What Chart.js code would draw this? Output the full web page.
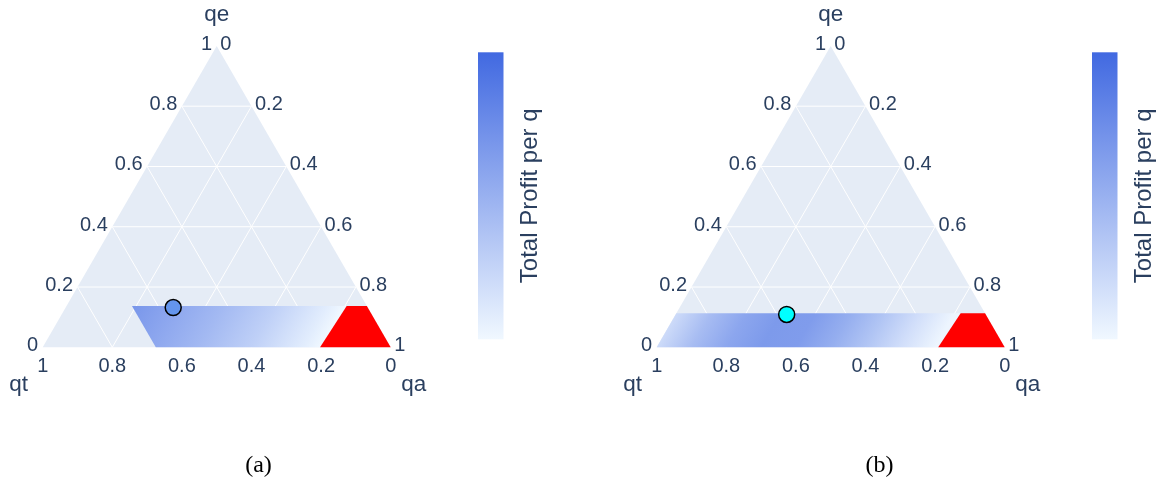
<!DOCTYPE html>
<html>
<head>
<meta charset="utf-8">
<script src="https://cdn.jsdelivr.net/npm/chart.js@4.4.1/dist/chart.umd.min.js"></script>
<style>
html, body { margin: 0; padding: 0; background: #fff; }
#wrap { position: relative; width: 1161px; height: 482px; overflow: hidden; }
.panel { position: absolute; top: 0; width: 547px; height: 482px; }
</style>
</head>
<body>
<div id="wrap">
  <div class="panel" style="left:0"><canvas id="chartA" width="547" height="482"></canvas></div>
  <div class="panel" style="left:614px"><canvas id="chartB" width="547" height="482"></canvas></div>
</div>
<script>
// ternary axes
const gridSteps = [0.2, 0.4, 0.6, 0.8];
const tickValues = [0, 0.2, 0.4, 0.6, 0.8, 1];
const tickLabels = ['0', '0.2', '0.4', '0.6', '0.8', '1'];
const colorbarTitle = 'Total Profit per q';
const captions = ['(a)', '(b)'];

// feasible band: qe upper bound, qt upper bound, qa where the red area starts (bottom / top)
const regionA = { qeMax: 0.137, qtMax: 0.675, qaCutBottom: 0.797, qaCutTop: 0.805 };
const regionB = { qeMax: 0.113, qtMax: 1.0, qaCutBottom: 0.809, qaCutTop: 0.817 };

// profit on the colour scale (0..1) read along qa
const profitQaA = [0.15, 0.30, 0.45, 0.60, 0.75, 0.80];
const profitA   = [0.72, 0.58, 0.44, 0.28, 0.08, 0.00];
const profitQaB = [0.00, 0.10, 0.20, 0.30, 0.40, 0.50, 0.60, 0.70, 0.80];
const profitB   = [0.20, 0.42, 0.57, 0.66, 0.64, 0.52, 0.36, 0.18, 0.02];

// chosen point [qa, qe]
const pointA = [0.309, 0.132];
const pointB = [0.319, 0.109];

const H = Math.sqrt(3) / 2;
const TEXT = '#2a3f5f';
const SANS = '"Liberation Sans", Arial, sans-serif';
const lowRGB = [240, 248, 255];   // aliceblue
const highRGB = [65, 105, 225];   // royalblue

function colorAt(t) {
    let c = lowRGB.map((l, i) => Math.round(l + (highRGB[i] - l) * t));
    return 'rgb(' + c.join(',') + ')';
}

function cart(qa, qe) {
    return { x: qa + qe / 2, y: qe * H };
}

function bandShape(r) {
    let topQt = Math.min(r.qtMax, 1 - r.qeMax);
    return [
        cart(1 - r.qtMax, 0),
        cart(r.qaCutBottom, 0),
        cart(r.qaCutTop, r.qeMax),
        cart(1 - topQt - r.qeMax, r.qeMax),
        cart(1 - r.qtMax, 0)
    ];
}

function redShape(r) {
    return [
        cart(r.qaCutBottom, 0),
        cart(1, 0),
        cart(1 - r.qeMax, r.qeMax),
        cart(r.qaCutTop, r.qeMax),
        cart(r.qaCutBottom, 0)
    ];
}

function gridLines() {
    let lines = [];
    gridSteps.forEach(v => {
        lines.push([cart(0, v), cart(1 - v, v)]);           // qe = v
        lines.push([cart(v, 0), cart(v, 1 - v)]);           // qa = v
        lines.push([cart(1 - v, 0), cart(0, 1 - v)]);       // qt = v
    });
    return lines;
}

// panel layout in canvas pixels
const layout = {
    left: 42.7, bottom: 347.3, side: 348,
    cbLeft: 478, cbWidth: 25.5, cbTop: 52.3, cbBottom: 339.3, cbTitleX: 530
};

const ternaryText = {
    id: 'ternaryText',
    afterDraw(chart, args, opts) {
        let ctx = chart.ctx;
        let xs = chart.scales.x, ys = chart.scales.y;
        let px = p => [xs.getPixelForValue(p.x), ys.getPixelForValue(p.y)];
        ctx.save();
        ctx.fillStyle = TEXT;
        ctx.font = '20px ' + SANS;
        ctx.textBaseline = 'middle';
        tickValues.forEach((v, i) => {
            // qe on the left edge
            let a = px(cart(0, v));
            ctx.textAlign = 'right';
            ctx.fillText(tickLabels[i], a[0] - 4.5, a[1] - 1.5);
            // qa on the right edge
            let b = px(cart(v, 1 - v));
            ctx.textAlign = 'left';
            ctx.fillText(tickLabels[i], b[0] + 3.5, b[1] - 1.5);
            // qt on the bottom edge
            let c = px(cart(1 - v, 0));
            ctx.textAlign = 'center';
            ctx.fillText(tickLabels[i], c[0], c[1] + 19.5);
        });
        ctx.font = '22.5px ' + SANS;
        ctx.textAlign = 'center';
        let top = px(cart(0, 1)), bl = px(cart(0, 0)), br = px(cart(1, 0));
        ctx.fillText('qe', top[0], top[1] - 31);
        ctx.fillText('qt', bl[0] - 24, bl[1] + 37);
        ctx.fillText('qa', br[0] + 23, br[1] + 37);

        // colour bar
        let g = ctx.createLinearGradient(0, layout.cbBottom, 0, layout.cbTop);
        g.addColorStop(0, colorAt(0));
        g.addColorStop(1, colorAt(1));
        ctx.fillStyle = g;
        ctx.fillRect(layout.cbLeft, layout.cbTop, layout.cbWidth, layout.cbBottom - layout.cbTop);
        ctx.fillStyle = TEXT;
        ctx.font = '24px ' + SANS;
        ctx.translate(layout.cbTitleX, (layout.cbTop + layout.cbBottom) / 2);
        ctx.rotate(-Math.PI / 2);
        ctx.fillText(colorbarTitle, 0, 0);
        ctx.restore();

        ctx.save();
        ctx.fillStyle = '#000';
        ctx.font = '24px "Liberation Serif", "Times New Roman", serif';
        ctx.textAlign = 'center';
        ctx.textBaseline = 'middle';
        ctx.fillText(opts.caption, opts.captionX, 466);
        ctx.restore();
    }
};

function makeChart(id, region, qaStops, profits, point, markerColor, caption, captionX) {
    let datasets = [];
    datasets.push({
        data: [cart(0, 0), cart(1, 0), cart(0, 1), cart(0, 0)],
        showLine: true, fill: 'shape', backgroundColor: '#e5ecf6',
        borderWidth: 0, borderColor: '#e5ecf6', pointRadius: 0, order: 6
    });
    gridLines().forEach(l => {
        datasets.push({
            data: l, showLine: true, fill: false, borderColor: '#ffffff',
            borderWidth: 1, pointRadius: 0, order: 5
        });
    });
    datasets.push({
        data: bandShape(region), showLine: true, fill: 'shape', borderWidth: 0,
        pointRadius: 0, order: 4,
        borderColor: 'rgba(0,0,0,0)',
        backgroundColor: function (c) {
            let chart = c.chart;
            let xs = chart.scales.x, ys = chart.scales.y;
            if (!xs || !ys) return colorAt(0.4);
            let x0 = xs.getPixelForValue(0), y0 = ys.getPixelForValue(0);
            let S = xs.getPixelForValue(1) - x0;
            if (!isFinite(x0) || !isFinite(S) || S <= 0) return colorAt(0.4);
            let g = chart.ctx.createLinearGradient(x0, y0, x0 + 0.75 * S, y0 + 0.5 * H * S);
            qaStops.forEach((q, i) => g.addColorStop(q, colorAt(profits[i])));
            return g;
        }
    });
    datasets.push({
        data: redShape(region), showLine: true, fill: 'shape', backgroundColor: '#ff0000',
        borderColor: '#ff0000', borderWidth: 0, pointRadius: 0, order: 3
    });
    datasets.push({
        data: [cart(point[0], point[1])], showLine: false,
        pointRadius: 8, pointBackgroundColor: markerColor, pointBorderColor: '#000',
        pointBorderWidth: 1.5, order: 1
    });

    let L = layout;
    return new Chart(document.getElementById(id).getContext('2d'), {
        type: 'scatter',
        data: { datasets: datasets },
        options: {
            responsive: false,
            devicePixelRatio: 1,
            animation: false,
            layout: { padding: 0, autoPadding: false },
            scales: {
                x: { type: 'linear', display: false,
                     min: -L.left / L.side, max: (547 - L.left) / L.side },
                y: { type: 'linear', display: false,
                     min: (L.bottom - 482) / L.side, max: L.bottom / L.side }
            },
            plugins: {
                legend: { display: false },
                tooltip: { enabled: false },
                ternaryText: { caption: caption, captionX: captionX }
            }
        },
        plugins: [ternaryText]
    });
}

makeChart('chartA', regionA, profitQaA, profitA, pointA, '#6495ed', captions[0], 258.5);
makeChart('chartB', regionB, profitQaB, profitB, pointB, '#00ffff', captions[1], 265.5);
</script>
</body>
</html>
